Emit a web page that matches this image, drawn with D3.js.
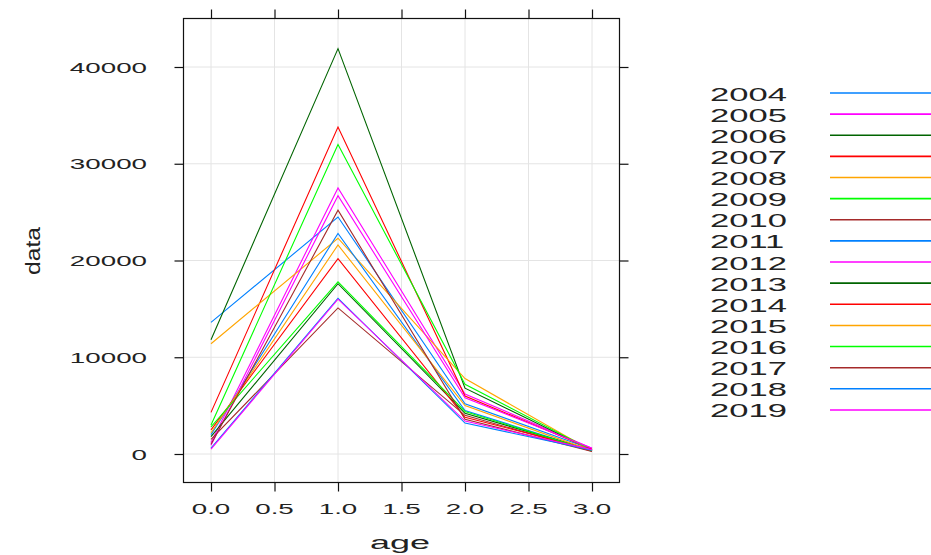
<!DOCTYPE html>
<html><head><meta charset="utf-8">
<script src="https://cdn.jsdelivr.net/npm/d3@7"></script>
<style>
html,body{margin:0;padding:0;background:#fff;}
text{font-family:"Liberation Sans",Arial,Helvetica,sans-serif;fill:#222;}
</style></head>
<body>
<svg id="chart" width="931" height="555"></svg>
<script>
// ---- data ----
const ages = [0, 1, 2, 3];
const years = ["2004","2005","2006","2007","2008","2009","2010","2011",
               "2012","2013","2014","2015","2016","2017","2018","2019"];
const s2004 = [13600, 24500, 5200, 500];
const s2005 = [1200, 27500, 6200, 600];
const s2006 = [11800, 41900, 6800, 400];
const s2007 = [4300, 33800, 6000, 500];
const s2008 = [11400, 22300, 7800, 300];
const s2009 = [3000, 32000, 7200, 400];
const s2010 = [1500, 15100, 4000, 300];
const s2011 = [2000, 22800, 4500, 350];
const s2012 = [900, 26700, 5800, 600];
const s2013 = [1800, 17600, 4200, 400];
const s2014 = [2500, 20200, 3800, 450];
const s2015 = [2200, 21600, 5000, 350];
const s2016 = [2800, 17800, 4400, 300];
const s2017 = [1000, 25200, 3600, 250];
const s2018 = [600, 16100, 3200, 400];
const s2019 = [500, 16000, 3400, 450];
const seriesValues = [s2004,s2005,s2006,s2007,s2008,s2009,s2010,s2011,
                      s2012,s2013,s2014,s2015,s2016,s2017,s2018,s2019];
const xTicks = [0, 0.5, 1, 1.5, 2, 2.5, 3];
const xTickLabels = ["0.0","0.5","1.0","1.5","2.0","2.5","3.0"];
const yTicks = [0, 10000, 20000, 30000, 40000];
const palette = ["#0080ff","#ff00ff","darkgreen","#ff0000","orange","#00ff00","brown"];

// ---- layout ----
const svg = d3.select("#chart");
const panel = {left:183, right:619, top:18, bottom:482};
const x = d3.scaleLinear().domain([0,3]).range([211,592]);
const y = d3.scaleLinear().domain([0,40000]).range([454,67]);
const color = d3.scaleOrdinal().domain(years).range(palette);

// grid
const g = svg.append("g");
g.selectAll(".gx").data(xTicks).enter().append("line")
  .attr("x1",d=>x(d)).attr("x2",d=>x(d)).attr("y1",panel.top).attr("y2",panel.bottom)
  .attr("stroke","#e4e4e4").attr("stroke-width",1);
g.selectAll(".gy").data(yTicks).enter().append("line")
  .attr("x1",panel.left).attr("x2",panel.right).attr("y1",d=>y(d)).attr("y2",d=>y(d))
  .attr("stroke","#e4e4e4").attr("stroke-width",1);

// series lines
const line = d3.line().x((d,i)=>x(ages[i])).y(d=>y(d));
svg.append("g").selectAll("path").data(seriesValues).enter().append("path")
  .attr("d",d=>line(d)).attr("fill","none")
  .attr("stroke",(d,i)=>color(years[i])).attr("stroke-width",1.1);

// panel border
svg.append("rect").attr("x",panel.left+0.5).attr("y",panel.top+0.5)
  .attr("width",panel.right-panel.left).attr("height",panel.bottom-panel.top)
  .attr("fill","none").attr("stroke","#111").attr("stroke-width",1.2);

// axes (ticks on all sides, labels on left/bottom)
const tl = 9;
const axB = svg.append("g").attr("transform",`translate(0,${panel.bottom+0.5})`)
  .call(d3.axisBottom(x).tickValues(xTicks).tickSize(tl).tickFormat(""));
const axT = svg.append("g").attr("transform",`translate(0,${panel.top+0.5})`)
  .call(d3.axisTop(x).tickValues(xTicks).tickSize(tl).tickFormat(""));
const axL = svg.append("g").attr("transform",`translate(${panel.left+0.5},0)`)
  .call(d3.axisLeft(y).tickValues(yTicks).tickSize(tl).tickFormat(""));
const axR = svg.append("g").attr("transform",`translate(${panel.right+0.5},0)`)
  .call(d3.axisRight(y).tickValues(yTicks).tickSize(tl).tickFormat(""));
[axB,axT,axL,axR].forEach(a=>{
  a.select(".domain").remove();
  a.selectAll(".tick line").attr("stroke","#111").attr("stroke-width",1.2);
});

const sx = 1.85;
// x tick labels
svg.append("g").selectAll("text").data(xTicks).enter().append("text")
  .attr("transform",d=>`translate(${x(d)},514) scale(${sx},1)`)
  .attr("text-anchor","middle").attr("font-size",15)
  .text((d,i)=>xTickLabels[i]);
// y tick labels
svg.append("g").selectAll("text").data(yTicks).enter().append("text")
  .attr("transform",d=>`translate(147,${y(d)+5.5}) scale(${sx},1)`)
  .attr("text-anchor","end").attr("font-size",15)
  .text(d=>d3.format("d")(d));

// axis titles
svg.append("text").attr("transform","translate(400,549) scale(2,1)")
  .attr("text-anchor","middle").attr("font-size",18).text("age");
svg.append("text").attr("transform","translate(40,251) rotate(-90) scale(0.95,0.8)")
  .attr("text-anchor","middle").attr("font-size",26).text("data");

// legend
const ly0 = 94, ldy = 21.13;
const leg = svg.append("g").selectAll("g").data(years).enter().append("g")
  .attr("transform",(d,i)=>`translate(0,${ly0+i*ldy})`);
leg.append("text").attr("transform",`translate(710,6.5) scale(1.82,1)`)
  .attr("font-size",19).text(d=>d);
leg.append("line").attr("x1",830).attr("x2",931).attr("y1",-1).attr("y2",-1)
  .attr("stroke",d=>color(d)).attr("stroke-width",1.6);
</script>
</body></html>
